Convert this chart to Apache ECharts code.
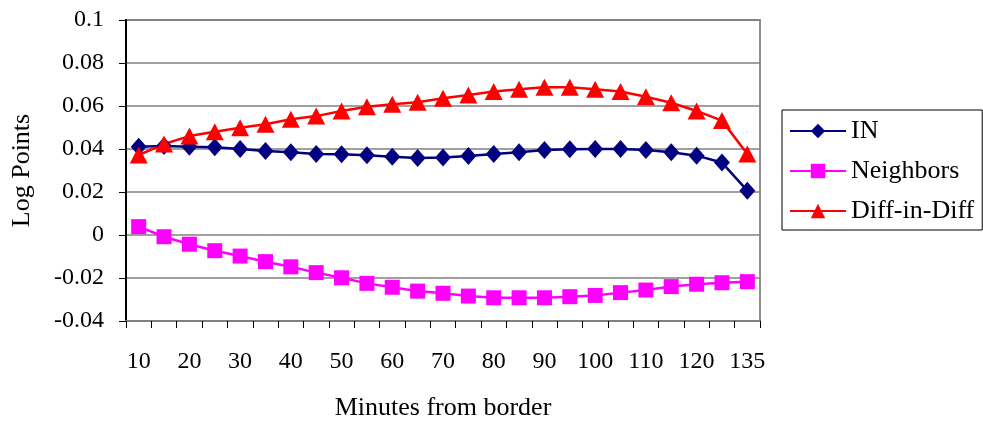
<!DOCTYPE html>
<html><head><meta charset="utf-8">
<script src="https://cdn.jsdelivr.net/npm/echarts@6/dist/echarts.min.js"></script>
<style>html,body{margin:0;padding:0;background:#fff}#c{width:983px;height:424px}</style>
</head><body><div id="c"></div>
<script>
const categories = ['10','15','20','25','30','35','40','45','50','55','60','65','70','75','80','85','90','95','100','105','110','115','120','125','135'];
const inValues = [0.0411,0.0414,0.0411,0.0408,0.0400,0.0391,0.0385,0.0377,0.0376,0.0371,0.0364,0.0358,0.0361,0.0367,0.0377,0.0385,0.0395,0.0399,0.0400,0.0400,0.0395,0.0385,0.0369,0.0337,0.0206];
const neighborsValues = [0.0039,-0.0008,-0.0043,-0.0073,-0.0098,-0.0124,-0.0148,-0.0175,-0.0199,-0.0225,-0.0243,-0.0261,-0.0271,-0.0284,-0.0292,-0.0292,-0.0292,-0.0287,-0.0281,-0.0268,-0.0256,-0.0240,-0.0229,-0.0222,-0.0217];
const didValues = [0.0372,0.0423,0.0460,0.0480,0.0499,0.0515,0.0538,0.0553,0.0577,0.0597,0.0608,0.0617,0.0636,0.0651,0.0667,0.0678,0.0687,0.0687,0.0678,0.0667,0.0643,0.0615,0.0577,0.0532,0.0377];
const seriesNames = ['IN','Neighbors','Diff-in-Diff'];
const yTicks = {min:-0.04, max:0.1, step:0.02};

const font = 'Liberation Serif, Times New Roman, serif';
const chart = echarts.init(document.getElementById('c'));
chart.setOption({
  animation:false,
  backgroundColor:'#fff',
  textStyle:{fontFamily:font},
  grid:{left:126,right:223,top:20,bottom:103,show:true,borderColor:'#909090',borderWidth:2,
    outerBoundsMode:'none',containLabel:false},
  legend:{
    orient:'vertical', left:782, top:110,
    padding:[8,8,6,7],
    borderColor:'#000', borderWidth:1,
    itemWidth:56, itemHeight:18, itemGap:14,
    textStyle:{fontFamily:font,fontSize:26,lineHeight:26,color:'#000'},
    data:seriesNames
  },
  xAxis:{
    type:'category', data:categories, boundaryGap:true,
    name:'Minutes from border', nameLocation:'middle', nameGap:74,
    nameTextStyle:{fontFamily:font,fontSize:26,color:'#000'},
    axisLine:{onZero:false,lineStyle:{color:'#808080',width:2}},
    axisTick:{show:true,interval:0,length:7,lineStyle:{color:'#000',width:1}},
    axisLabel:{interval:1,margin:29,fontFamily:font,fontSize:24,color:'#000'},
    splitLine:{show:false}
  },
  yAxis:{
    type:'value', min:yTicks.min, max:yTicks.max, interval:yTicks.step,
    name:'Log Points', nameLocation:'middle', nameGap:91,
    nameTextStyle:{fontFamily:font,fontSize:26,color:'#000'},
    axisLine:{show:true,lineStyle:{color:'#000',width:2}},
    axisTick:{show:true,length:7,lineStyle:{color:'#000'}},
    axisLabel:{margin:22,fontFamily:font,fontSize:24,color:'#000',
      formatter:v=>String(parseFloat(v.toFixed(2)))},
    splitLine:{show:true,lineStyle:{color:'#808080',width:1.5}}
  },
  series:[
    {name:seriesNames[0],type:'line',data:inValues,symbol:'diamond',symbolSize:[16,18],showAllSymbol:true,
      itemStyle:{color:'#000080'},lineStyle:{color:'#000080',width:2.5}},
    {name:seriesNames[1],type:'line',data:neighborsValues,symbol:'rect',symbolSize:15,showAllSymbol:true,
      itemStyle:{color:'#FF00FF'},lineStyle:{color:'#FF00FF',width:2.5}},
    {name:seriesNames[2],type:'line',data:didValues,symbol:'triangle',symbolSize:[18,17],showAllSymbol:true,
      itemStyle:{color:'#FF0000'},lineStyle:{color:'#FF0000',width:2.5}}
  ]
});
</script></body></html>
